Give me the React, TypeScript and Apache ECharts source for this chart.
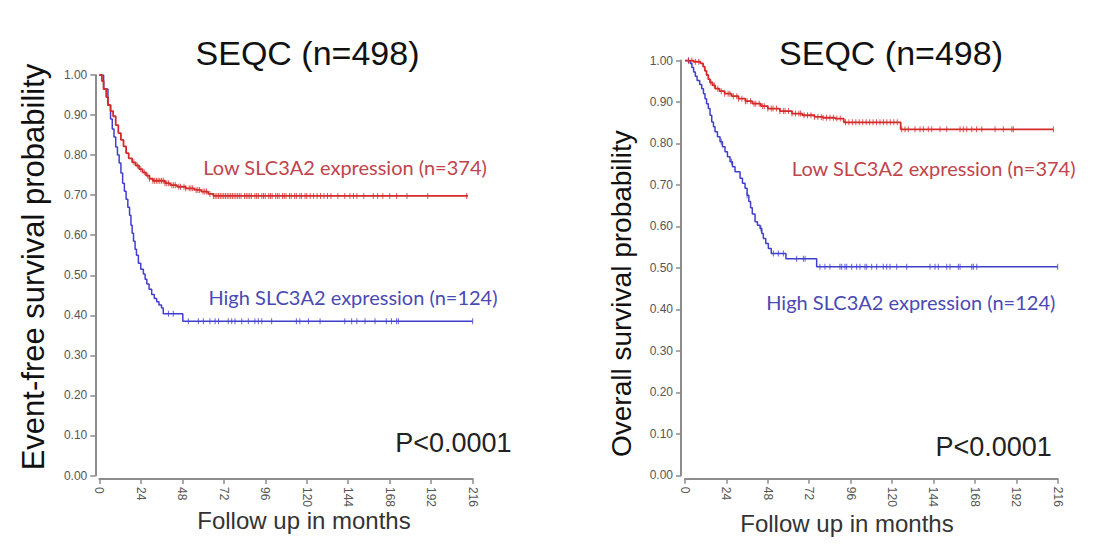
import React, { useEffect, useRef } from "react";
import * as echarts from "echarts";

// ---------- data ----------
const xTickMax = 216;
const xTickStep = 24;
const yTickStep = 0.1;

const panelTitles = ["SEQC (n=498)", "SEQC (n=498)"];
const yTitles = ["Event-free survival probability", "Overall survival probability"];
const xTitle = "Follow up in months";
const pValueText = "P<0.0001";
const lowLabel = "Low SLC3A2 expression (n=374)";
const highLabel = "High SLC3A2 expression (n=124)";

// Event-free survival, low expression (month, probability)
const efsLow: [number, number][] = [
  [0, 1.0], [1.5, 0.985], [2.5, 0.965], [4, 0.945], [5, 0.925], [6.5, 0.91], [8, 0.897],
  [9.5, 0.875], [11, 0.855], [12.5, 0.838], [14, 0.822], [15.5, 0.805], [17, 0.792],
  [19, 0.782], [21, 0.774], [23, 0.765], [25, 0.757], [27, 0.749], [29, 0.741], [31, 0.736],
  [38, 0.73], [41, 0.725], [45, 0.721], [50, 0.717], [55, 0.713], [59, 0.709], [63, 0.703],
  [66, 0.698], [213.3, 0.698],
];
// Event-free survival, high expression
const efsHigh: [number, number][] = [
  [0, 1.0], [2.5, 0.965], [5, 0.925], [6.5, 0.89], [7.5, 0.865], [8.5, 0.845], [9.5, 0.82],
  [10.5, 0.8], [11.5, 0.78], [12.5, 0.755], [13.5, 0.73], [14.5, 0.71], [15.5, 0.69],
  [16.5, 0.67], [17.5, 0.65], [18.3, 0.625], [19, 0.605], [19.8, 0.585], [20.7, 0.565],
  [21.5, 0.55], [22.6, 0.53], [24, 0.515], [25.5, 0.503], [26.5, 0.49], [27.5, 0.478],
  [28.8, 0.465], [30.3, 0.452], [31.8, 0.442], [33.2, 0.434], [34.5, 0.426], [36, 0.418],
  [37, 0.404], [48.3, 0.385], [216, 0.385],
];
// Overall survival, low expression
const osLow: [number, number][] = [
  [0, 1.0], [5, 0.997], [9, 0.993], [10.5, 0.985], [11.5, 0.975], [12.5, 0.965], [13.5, 0.955],
  [14.5, 0.947], [16, 0.94], [17.5, 0.932], [20, 0.926], [23, 0.92], [27, 0.914], [31, 0.908],
  [35, 0.902], [39, 0.896], [44, 0.89], [48, 0.884], [55, 0.878], [62, 0.872], [68, 0.868],
  [75, 0.864], [80, 0.862], [87, 0.86], [92, 0.851], [125, 0.834], [213.5, 0.834],
];
// Overall survival, high expression
const osHigh: [number, number][] = [
  [0, 1.0], [3, 0.993], [4, 0.983], [5, 0.972], [6, 0.962], [7, 0.952], [8.5, 0.942],
  [9.7, 0.932], [10.7, 0.92], [11.6, 0.908], [12.5, 0.896], [13.5, 0.884], [14.5, 0.868],
  [15.5, 0.852], [16.5, 0.84], [17.4, 0.828], [18.8, 0.816], [20.3, 0.804], [21.7, 0.792],
  [23.2, 0.78], [24.6, 0.768], [26.1, 0.756], [27.5, 0.744], [29, 0.732], [31.9, 0.716],
  [33.3, 0.704], [34.8, 0.692], [36, 0.675], [37, 0.66], [38, 0.645], [39, 0.63],
  [40.6, 0.611], [42, 0.603], [43.5, 0.595], [44.5, 0.583], [45.4, 0.571], [46.8, 0.559],
  [48.3, 0.547], [50, 0.535], [58.5, 0.522], [76.3, 0.503], [216, 0.503],
];

// censoring times (months)
const efsLowCensor = [
  20, 22, 24, 26, 28, 29, 31, 32, 33, 34, 35, 36, 37, 38, 39, 40, 42, 43, 44, 46, 47, 49, 50,
  52, 53, 54, 56, 57, 58, 60, 61, 62, 64, 66, 67, 68, 69, 70, 71, 72, 73, 74, 75, 76, 77, 78,
  79, 80, 81, 82, 84, 85, 86, 87, 88, 90, 91, 92, 94, 95, 96, 98, 99, 100, 102, 103, 104, 106,
  107, 108, 110, 111, 113, 114, 116, 117, 119, 120, 122, 124, 126, 128, 130, 132, 134, 138,
  142, 145, 147, 149, 153, 158.5, 161, 164, 168, 172, 178, 190, 212.5,
];
const efsHighCensor = [
  40, 42.8, 51.5, 57.3, 60.2, 64, 67, 69, 74.6, 76.6, 78.5, 82.4, 86.2, 90, 92, 94, 99.7, 114,
  116, 121, 127.7, 142, 146, 149, 153.7, 159.5, 166, 169, 172, 173, 216,
];
const osLowCensor = [
  2, 4, 6, 8, 15, 17, 19, 21, 23, 25, 26, 28, 30, 31, 33, 35, 36, 38, 40, 41, 43, 45, 46, 48,
  50, 51, 53, 55, 57, 58, 60, 62, 64, 66, 67, 69, 71, 73, 75, 77, 79, 80, 82, 84, 86, 88, 90,
  93, 95, 97, 99, 101, 103, 105, 107, 109, 111, 113, 115, 117, 119, 121, 123, 125.6, 127.5,
  129.4, 133.3, 136.2, 138.1, 141, 143, 147.8, 151.7, 159.4, 161.3, 163.3, 166.2, 169, 172,
  179.7, 184.5, 189.4, 190.3, 213.5,
];
const osHighCensor = [
  2, 21, 27, 36, 44, 51.2, 54.1, 57, 64.7, 68.6, 69.6, 78.2, 81.1, 84, 89.8, 90.8, 92.7, 93.7,
  96.6, 99.5, 101.4, 104.3, 105.3, 108.2, 111.1, 114.9, 116.9, 118.8, 122.7, 128.5, 142, 144.9,
  146.8, 151.7, 153.6, 158.4, 159.4, 166.2, 167.1, 169.1, 216,
];

// ---------- helpers ----------
const RED_LINE = "#d42a2a";
const BLUE_LINE = "#3f3fcf";
const RED_TEXT = "#c0444c";
const BLUE_TEXT = "#4a4ab4";
const AXIS_GRAY = "#8c8c8c";
const ARIAL = "'Liberation Sans', Arial, sans-serif";
const CALIBRI = "Lato, 'Open Sans', sans-serif";

function stepValue(curve: [number, number][], t: number): number {
  let v = curve[0][1];
  for (const [m, s] of curve) {
    if (m <= t) v = s;
    else break;
  }
  return v;
}

function censorPoints(curve: [number, number][], times: number[]) {
  return times.map((t) => [t, stepValue(curve, t)]);
}

const grids = [
  { left: 99.3, top: 75, width: 373.4, height: 400.5 },
  { left: 685, top: 60.5, width: 372.7, height: 414.8 },
];

function makeXAxis(gridIndex: number) {
  return {
    type: "value",
    gridIndex,
    min: 0,
    max: xTickMax,
    interval: xTickStep,
    offset: 3.5,
    axisLine: { show: true, onZero: false, lineStyle: { color: AXIS_GRAY, width: 2 } },
    axisTick: { show: true, length: 5, lineStyle: { color: AXIS_GRAY, width: 1.5 } },
    axisLabel: { rotate: -90, fontSize: 12, color: "#555", margin: 8, fontFamily: ARIAL },
    splitLine: { show: false },
  };
}

function makeYAxis(gridIndex: number) {
  return {
    type: "value",
    gridIndex,
    min: 0,
    max: 1,
    interval: yTickStep,
    offset: 4,
    axisLine: { show: true, onZero: false, lineStyle: { color: AXIS_GRAY, width: 2 } },
    axisTick: { show: true, length: 5, lineStyle: { color: AXIS_GRAY, width: 1.5 } },
    axisLabel: {
      fontSize: 12,
      color: "#555",
      margin: 8,
      fontFamily: ARIAL,
      formatter: (v: number) => v.toFixed(2),
    },
    splitLine: { show: false },
  };
}

function stepSeries(curve: [number, number][], color: string, idx: number, width: number) {
  return {
    type: "line",
    step: "end",
    data: curve,
    xAxisIndex: idx,
    yAxisIndex: idx,
    showSymbol: false,
    symbol: "none",
    lineStyle: { color, width },
    silent: true,
  };
}

function censorSeries(curve: [number, number][], times: number[], color: string, idx: number) {
  return {
    type: "scatter",
    data: censorPoints(curve, times),
    xAxisIndex: idx,
    yAxisIndex: idx,
    symbol: "rect",
    symbolSize: [1, 6],
    itemStyle: { color },
    silent: true,
  };
}

function txt(text: string, x: number, y: number, size: number, fill: string, family: string, rotation = 0) {
  return {
    type: "text",
    x,
    y,
    rotation,
    style: {
      text,
      fontSize: size,
      fontFamily: family,
      fill,
      align: "center",
      verticalAlign: "middle",
    },
  };
}

export default function App() {
  const ref = useRef<HTMLDivElement>(null);

  useEffect(() => {
    document.body.style.margin = "0";
    if (!ref.current) return;
    const chart = echarts.init(ref.current, undefined, { renderer: "svg" });
    chart.setOption({
      animation: false,
      backgroundColor: "#ffffff",
      grid: grids,
      xAxis: [makeXAxis(0), makeXAxis(1)],
      yAxis: [makeYAxis(0), makeYAxis(1)],
      series: [
        stepSeries(efsHigh, BLUE_LINE, 0, 1.5),
        censorSeries(efsHigh, efsHighCensor, BLUE_LINE, 0),
        stepSeries(efsLow, RED_LINE, 0, 1.8),
        censorSeries(efsLow, efsLowCensor, RED_LINE, 0),
        stepSeries(osHigh, BLUE_LINE, 1, 1.5),
        censorSeries(osHigh, osHighCensor, BLUE_LINE, 1),
        stepSeries(osLow, RED_LINE, 1, 1.8),
        censorSeries(osLow, osLowCensor, RED_LINE, 1),
      ],
      graphic: [
        txt(panelTitles[0], 307.5, 52.6, 34, "#111", ARIAL),
        txt(panelTitles[1], 891, 52.6, 34, "#111", ARIAL),
        txt(yTitles[0], 33, 267, 31, "#111", ARIAL, Math.PI / 2),
        txt(yTitles[1], 621.6, 293.6, 28, "#111", ARIAL, Math.PI / 2),
        txt(xTitle, 304, 520, 24, "#333", ARIAL),
        txt(xTitle, 847, 523, 24, "#333", ARIAL),
        txt(pValueText, 453.4, 443, 27, "#222", ARIAL),
        txt(pValueText, 993.7, 446.7, 27, "#222", ARIAL),
        txt(lowLabel, 345, 166.5, 20, RED_TEXT, CALIBRI),
        txt(highLabel, 353, 297, 20, BLUE_TEXT, CALIBRI),
        txt(lowLabel, 933.7, 168.3, 20, RED_TEXT, CALIBRI),
        txt(highLabel, 910.8, 301.5, 20, BLUE_TEXT, CALIBRI),
      ],
    });
    return () => chart.dispose();
  }, []);

  return <div ref={ref} style={{ width: 1110, height: 550 }} />;
}
